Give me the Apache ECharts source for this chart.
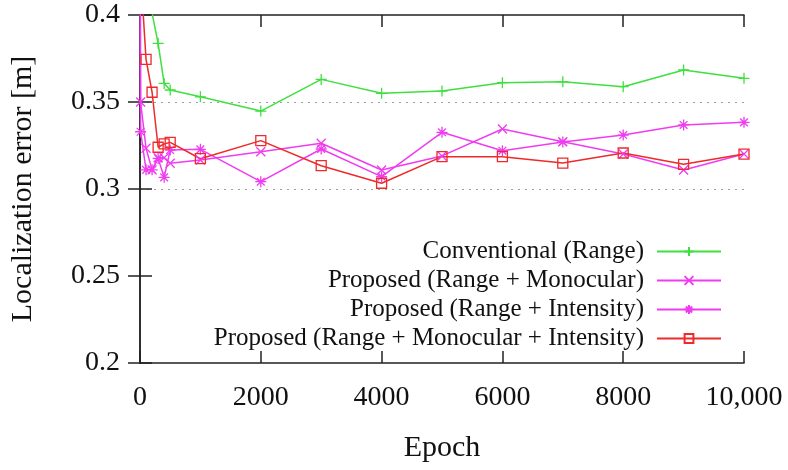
<!DOCTYPE html>
<html>
<head>
<meta charset="utf-8">
<script src="https://cdn.jsdelivr.net/npm/echarts@6/dist/echarts.min.js"></script>
<style>
  html, body { margin: 0; padding: 0; background: #fff; }
  #chart { width: 788px; height: 470px; }
</style>
</head>
<body>
<div id="chart"></div>
<script>
// epochs where the runs were evaluated (null = no point for that series)
const epochs = [0, 10, 100, 200, 300, 400, 500, 1000, 2000, 3000, 4000, 5000, 6000, 7000, 8000, 9000, 10000];

const conventional = [null, null, 0.43, 0.401, 0.3837, 0.3607, 0.3569, 0.353, 0.3448, 0.363, 0.355, 0.3563, 0.3611, 0.3617, 0.3588, 0.3684, 0.3636];
const monocular    = [0.47, 0.350, 0.3234, 0.311, 0.318, 0.318, 0.3148, 0.3167, 0.3214, 0.3263, 0.3109, 0.319, 0.3345, 0.3272, 0.3201, 0.3109, 0.3201];
const intensity    = [0.49, 0.3329, 0.311, 0.311, 0.3176, 0.3067, 0.3224, 0.3228, 0.3042, 0.323, 0.3071, 0.3326, 0.322, 0.327, 0.331, 0.3368, 0.3383];
const combined     = [0.43, null, 0.3745, 0.3556, 0.324, 0.3259, 0.3268, 0.3174, 0.3278, 0.3134, 0.3033, 0.3186, 0.3186, 0.3149, 0.3207, 0.3142, 0.3201];

const seriesNames = [
    'Conventional (Range)',
    'Proposed (Range + Monocular)',
    'Proposed (Range + Intensity)',
    'Proposed (Range + Monocular + Intensity)',
];

const xTicks = { min: 0, max: 10000, step: 2000 };
const yTicks = { min: 0.2, max: 0.4, step: 0.05 };

const FONT = '"Liberation Serif", "DejaVu Serif", serif';
const GREEN = '#3ee03e';
const MAGENTA = '#f03cf0';
const RED = '#ee2a2a';

const SYM_PLUS  = 'path://M5,0L5,10M0,5L10,5';
const SYM_CROSS = 'path://M0,0L10,10M10,0L0,10';
const SYM_STAR  = 'path://M5,0L5,10M0,5L10,5M1.5,1.5L8.5,8.5M8.5,1.5L1.5,8.5';

function pairs(values) {
    return epochs.map((e, i) => [e, values[i]]);
}

function lineSeries(name, values, color, symbol, size) {
    return {
        name,
        type: 'line',
        data: pairs(values),
        connectNulls: true,
        symbol,
        symbolSize: size,
        symbolKeepAspect: true,
        showAllSymbol: true,
        lineStyle: { color, width: 1.5 },
        itemStyle: { color: 'transparent', borderColor: color, borderWidth: 1.3 },
        emphasis: { disabled: true },
        animation: false,
        z: 3,
    };
}

const chart = echarts.init(document.getElementById('chart'), null, { renderer: 'canvas' });

const axisLine = { show: true, lineStyle: { color: '#222', width: 1.5 } };
const tickIn = { show: true, inside: true, length: 12, lineStyle: { color: '#222', width: 1.5 } };

chart.setOption({
    animation: false,
    textStyle: { fontFamily: FONT },
    grid: { left: 140, right: 44, top: 15, bottom: 107, show: false },
    legend: {
        data: seriesNames,
        orient: 'vertical',
        align: 'right',
        right: 61,
        top: 234,
        itemWidth: 64,
        itemHeight: 11,
        itemGap: 4,
        textStyle: { fontFamily: FONT, fontSize: 25, color: '#111', padding: [0, 8, 0, 0] },
        selectedMode: false,
    },
    xAxis: [{
        type: 'value',
        position: 'bottom',
        min: xTicks.min, max: xTicks.max, interval: xTicks.step,
        name: 'Epoch',
        nameLocation: 'middle',
        nameGap: 70,
        nameTextStyle: { fontFamily: FONT, fontSize: 30, color: '#111' },
        axisLine, axisTick: tickIn,
        splitLine: { show: false },
        axisLabel: {
            fontFamily: FONT, fontSize: 28, color: '#111', margin: 21,
            formatter: v => (v === 10000 ? '10,000' : String(v)),
        },
    }, {
        type: 'value',
        position: 'top',
        min: xTicks.min, max: xTicks.max, interval: xTicks.step,
        axisLine, axisTick: tickIn,
        splitLine: { show: false },
        axisLabel: { show: false },
    }],
    yAxis: [{
        type: 'value',
        position: 'left',
        min: yTicks.min, max: yTicks.max, interval: yTicks.step,
        name: 'Localization error [m]',
        nameLocation: 'middle',
        nameGap: 102,
        nameTextStyle: { fontFamily: FONT, fontSize: 30, color: '#111' },
        axisLine, axisTick: tickIn,
        splitLine: {
            show: true,
            lineStyle: { color: ['transparent', 'transparent', '#a0a0a0', '#a0a0a0', 'transparent'], type: [2, 5], width: 1.2 },
        },
        axisLabel: {
            fontFamily: FONT, fontSize: 28, color: '#111', margin: 20,
            formatter: v => String(+v.toFixed(2)),
        },
    }, {
        type: 'value',
        position: 'right',
        min: yTicks.min, max: yTicks.max, interval: yTicks.step,
        axisLine, axisTick: tickIn,
        splitLine: { show: false },
        axisLabel: { show: false },
    }],
    series: [
        lineSeries(seriesNames[0], conventional, GREEN, SYM_PLUS, 11),
        lineSeries(seriesNames[1], monocular, MAGENTA, SYM_CROSS, 9),
        lineSeries(seriesNames[2], intensity, MAGENTA, SYM_STAR, 11),
        lineSeries(seriesNames[3], combined, RED, 'rect', 10),
    ],
});
</script>
</body>
</html>
